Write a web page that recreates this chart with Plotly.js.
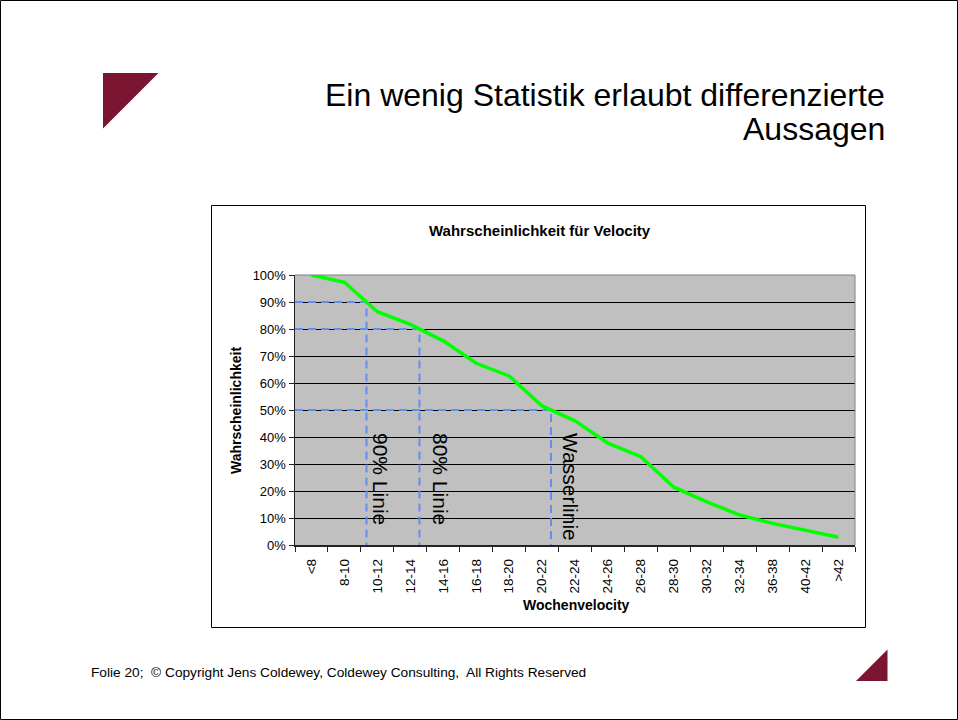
<!DOCTYPE html>
<html>
<head>
<meta charset="utf-8">
<script src="https://cdn.plot.ly/plotly-3.0.1.min.js"></script>
<style>
  html, body { margin: 0; padding: 0; background: #fff; }
  #chart { width: 958px; height: 720px; }
</style>
</head>
<body>
<div id="chart"></div>
<script>
// ---- data ----
const categories = ['<8', '8-10', '10-12', '12-14', '14-16', '16-18', '18-20', '20-22', '22-24',
                    '24-26', '26-28', '28-30', '30-32', '32-34', '36-38', '40-42', '>42'];
const probability = [100, 97.3, 86.4, 81.7, 75.6, 67.3, 62.6, 51.5, 46, 37.7, 32.7, 21.4, 16, 11.1, 8, 5.3, 2.9];
const thresholds = [90, 80, 50];
const thresholdLabels = ['90% Linie', '80% Linie', 'Wasserlinie'];
const yTicks = [0, 10, 20, 30, 40, 50, 60, 70, 80, 90, 100];

const slideTitle1 = 'Ein wenig Statistik erlaubt differenzierte';
const slideTitle2 = 'Aussagen';
const chartTitle = 'Wahrscheinlichkeit für Velocity';
const xTitle = 'Wochenvelocity';
const yTitle = 'Wahrscheinlichkeit';
const footer = 'Folie 20;&nbsp; © Copyright Jens Coldewey, Coldewey Consulting,&nbsp; All Rights Reserved';

// ---- helpers ----
const L = 295, R = 855, T = 275, B = 545;
const px = x => (x - L) / (R - L);
const py = y => (B - y) / (B - T);
const FONT = 'Arial, "Liberation Sans", sans-serif';
const idx = categories.map((_, i) => i);
const boundaries = categories.map((_, i) => i - 0.5).concat([categories.length - 0.5]);

// where the curve crosses a probability level (linear between category points)
function crossing(level) {
  for (let i = 0; i < probability.length - 1; i++) {
    const a = probability[i], b = probability[i + 1];
    if (a >= level && b < level) return i + (a - level) / (a - b);
  }
  return null;
}

const traces = [];
thresholds.forEach(t => {
  const xc = crossing(t);
  traces.push({
    x: [-0.5, xc, xc], y: [t, t, 0], mode: 'lines', type: 'scatter',
    line: { color: '#5F8FEF', width: 2, dash: '8px,5px' },
    hoverinfo: 'skip', cliponaxis: false
  });
});
traces.push({
  x: idx, y: probability, mode: 'lines', type: 'scatter',
  line: { color: '#00FF00', width: 3.5 }, hoverinfo: 'skip'
});

const textX = [381, 441, 571];   // pixel centers of the rotated labels
const annotations = [
  { text: slideTitle1, xref: 'paper', yref: 'paper', x: px(887), y: py(94.5), xanchor: 'right', yanchor: 'middle',
    showarrow: false, font: { family: FONT, size: 32, color: '#000' } },
  { text: slideTitle2, xref: 'paper', yref: 'paper', x: px(887), y: py(129.5), xanchor: 'right', yanchor: 'middle',
    showarrow: false, font: { family: FONT, size: 32, color: '#000' } },
  { text: '<b>' + chartTitle + '</b>', xref: 'paper', yref: 'paper', x: px(540), y: py(230.5), xanchor: 'center', yanchor: 'middle',
    showarrow: false, font: { family: FONT, size: 15, color: '#000' } },
  { text: '<b>' + xTitle + '</b>', xref: 'paper', yref: 'paper', x: px(576), y: py(605), xanchor: 'center', yanchor: 'middle',
    showarrow: false, font: { family: FONT, size: 14, color: '#000' } },
  { text: '<b>' + yTitle + '</b>', xref: 'paper', yref: 'paper', x: px(236), y: py(411), xanchor: 'center', yanchor: 'middle',
    textangle: -90, showarrow: false, font: { family: FONT, size: 14, color: '#000' } },
  { text: footer, xref: 'paper', yref: 'paper', x: px(89), y: py(672), xanchor: 'left', yanchor: 'middle',
    showarrow: false, font: { family: FONT, size: 13.7, color: '#000' } }
];
thresholdLabels.forEach((lab, i) => {
  annotations.push({
    text: lab, xref: 'paper', yref: 'paper', x: px(textX[i]), y: py(431), xanchor: 'center', yanchor: 'top',
    textangle: 90, showarrow: false, font: { family: FONT, size: 21, color: '#000' }
  });
});

const shapes = [
  // slide border
  { type: 'rect', xref: 'paper', yref: 'paper', x0: px(0.5), x1: px(957.5), y0: py(0.5), y1: py(719.5),
    line: { color: '#000', width: 1 }, fillcolor: 'rgba(0,0,0,0)', layer: 'above' },
  // chart frame
  { type: 'rect', xref: 'paper', yref: 'paper', x0: px(211.5), x1: px(865.5), y0: py(205.5), y1: py(627.5),
    line: { color: '#000', width: 1 }, fillcolor: 'rgba(0,0,0,0)', layer: 'above' },
  // plot area top/right edges (gray)
  { type: 'line', xref: 'paper', yref: 'paper', x0: 0, x1: 1, y0: 1, y1: 1, line: { color: '#808080', width: 1 }, layer: 'above' },
  { type: 'line', xref: 'paper', yref: 'paper', x0: 1, x1: 1, y0: 0, y1: 1, line: { color: '#808080', width: 1 }, layer: 'above' },
  // decorative triangles
  { type: 'path', xref: 'paper', yref: 'paper',
    path: `M ${px(103)},${py(73)} L ${px(158.5)},${py(73)} L ${px(103)},${py(128.5)} Z`,
    fillcolor: '#7B1430', line: { width: 0 }, layer: 'above' },
  { type: 'path', xref: 'paper', yref: 'paper',
    path: `M ${px(856)},${py(681)} L ${px(887.5)},${py(649.5)} L ${px(887.5)},${py(681)} Z`,
    fillcolor: '#7B1430', line: { width: 0 }, layer: 'above' }
];

const layout = {
  width: 958, height: 720, autosize: false,
  margin: { l: L, r: 958 - R, t: T, b: 720 - B, pad: 0 },
  paper_bgcolor: '#FFFFFF', plot_bgcolor: '#C0C0C0',
  showlegend: false,
  font: { family: FONT, size: 13, color: '#000' },
  xaxis: {
    type: 'linear', range: [-0.5, categories.length - 0.5], automargin: false,
    tickmode: 'array', tickvals: idx, ticktext: categories, tickangle: -90,
    ticks: 'outside', ticklen: 7, tickcolor: 'rgba(0,0,0,0)',
    tickfont: { family: FONT, size: 13.5, color: '#000' },
    showgrid: false, zeroline: false, showline: true, linecolor: '#222', linewidth: 1.5,
    minor: { tickmode: 'array', tickvals: boundaries, ticks: 'outside', ticklen: 5, tickcolor: '#222', tickwidth: 1, showgrid: false },
    fixedrange: true
  },
  yaxis: {
    range: [0, 100], automargin: false,
    tickmode: 'array', tickvals: yTicks, ticktext: yTicks.map(v => v + '%'),
    ticks: 'outside', ticklen: 5, tickcolor: '#222',
    tickfont: { family: FONT, size: 13, color: '#000' },
    showgrid: true, gridcolor: '#000', gridwidth: 1,
    zeroline: false, showline: true, linecolor: '#222', linewidth: 1.5,
    fixedrange: true
  },
  annotations: annotations,
  shapes: shapes
};

Plotly.newPlot('chart', traces, layout, { staticPlot: true, displayModeBar: false });
</script>
</body>
</html>
